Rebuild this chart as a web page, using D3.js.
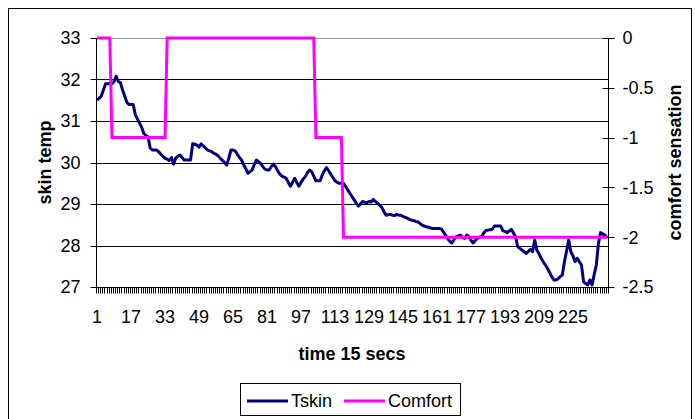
<!DOCTYPE html>
<html>
<head>
<meta charset="utf-8">
<script src="https://cdn.jsdelivr.net/npm/d3@7"></script>
<style>
  body { margin: 0; background: #fff; }
  text { font-family: Arial, "Liberation Sans", sans-serif; fill: #000; }
</style>
</head>
<body>
<div id="chart"></div>
<script>
// skin temperature, one reading per 15 s
var tskin = [
  31.5,31.55,31.6,31.75,31.9,31.9,31.9,31.9,31.95,32.08,
  31.95,31.92,31.75,31.6,31.45,31.4,31.4,31.4,31.15,31.05,
  30.95,30.85,30.7,30.65,30.62,30.35,30.3,30.3,30.3,30.26,
  30.2,30.15,30.1,30.08,30.05,30.12,29.96,30.1,30.15,30.18,
  30.12,30.06,30.06,30.06,30.06,30.45,30.44,30.42,30.37,30.45,
  30.4,30.35,30.3,30.28,30.26,30.22,30.2,30.16,30.1,30.05,
  30.0,29.94,30.1,30.3,30.3,30.28,30.2,30.12,30.06,29.95,
  29.85,29.74,29.78,29.82,29.95,30.06,30.02,29.98,29.9,29.84,
  29.82,29.82,29.9,29.96,29.9,29.8,29.72,29.67,29.65,29.62,
  29.52,29.43,29.52,29.62,29.52,29.43,29.52,29.6,29.66,29.75,
  29.82,29.78,29.67,29.56,29.56,29.56,29.7,29.8,29.88,29.8,
  29.72,29.64,29.56,29.52,29.5,29.5,29.5,29.42,29.34,29.26,
  29.18,29.1,29.02,28.95,29.0,29.06,29.04,29.03,29.06,29.05,
  29.11,29.06,29.02,28.97,28.92,28.82,28.73,28.74,28.75,28.73,
  28.72,28.75,28.73,28.73,28.7,28.68,28.66,28.63,28.61,28.6,
  28.58,28.57,28.53,28.49,28.47,28.45,28.44,28.42,28.41,28.41,
  28.41,28.41,28.4,28.33,28.25,28.17,28.1,28.06,28.14,28.21,
  28.23,28.25,28.2,28.17,28.25,28.21,28.13,28.06,28.12,28.17,
  28.2,28.22,28.3,28.36,28.37,28.38,28.39,28.47,28.47,28.47,
  28.47,28.36,28.34,28.31,28.35,28.39,28.3,28.21,27.97,27.93,
  27.89,27.85,27.81,27.86,27.91,27.85,28.13,27.89,27.8,27.7,
  27.61,27.53,27.45,27.35,27.25,27.17,27.17,27.2,27.25,27.29,
  27.61,27.87,28.13,27.85,27.75,27.61,27.69,27.61,27.53,27.13,
  27.08,27.05,27.17,27.05,27.3,27.53,28.05,28.31,28.28,28.25,
  28.2
];

// comfort sensation votes
var comfort = [
  0,0,0,0,0,0,0,-1,-1,-1,
  -1,-1,-1,-1,-1,-1,-1,-1,-1,-1,
  -1,-1,-1,-1,-1,-1,-1,-1,-1,-1,
  -1,-1,-1,0,0,0,0,0,0,0,
  0,0,0,0,0,0,0,0,0,0,
  0,0,0,0,0,0,0,0,0,0,
  0,0,0,0,0,0,0,0,0,0,
  0,0,0,0,0,0,0,0,0,0,
  0,0,0,0,0,0,0,0,0,0,
  0,0,0,0,0,0,0,0,0,0,
  0,0,0,-1,-1,-1,-1,-1,-1,-1,
  -1,-1,-1,-1,-1,-1,-2,-2,-2,-2,
  -2,-2,-2,-2,-2,-2,-2,-2,-2,-2,
  -2,-2,-2,-2,-2,-2,-2,-2,-2,-2,
  -2,-2,-2,-2,-2,-2,-2,-2,-2,-2,
  -2,-2,-2,-2,-2,-2,-2,-2,-2,-2,
  -2,-2,-2,-2,-2,-2,-2,-2,-2,-2,
  -2,-2,-2,-2,-2,-2,-2,-2,-2,-2,
  -2,-2,-2,-2,-2,-2,-2,-2,-2,-2,
  -2,-2,-2,-2,-2,-2,-2,-2,-2,-2,
  -2,-2,-2,-2,-2,-2,-2,-2,-2,-2,
  -2,-2,-2,-2,-2,-2,-2,-2,-2,-2,
  -2,-2,-2,-2,-2,-2,-2,-2,-2,-2,
  -2,-2,-2,-2,-2,-2,-2,-2,-2,-2,
  -2
];

var xLabels = [1,17,33,49,65,81,97,113,129,145,161,177,193,209,225];
var leftTicks = [27,28,29,30,31,32,33];
var rightTicks = [-2.5,-2,-1.5,-1,-0.5,0];

var width = 695,
    height = 419,
    plot = {left: 96, right: 608, top: 38, bottom: 287};

var svg = d3.select("#chart")
  .append("svg")
    .attr("width", width)
    .attr("height", height);

// chart frame
svg.append("rect")
    .attr("x", 8.5).attr("y", 8.5)
    .attr("width", 683).attr("height", 420)
    .attr("fill", "none")
    .attr("stroke", "#000");

var cats = tskin.map(function(d, i) { return i + 1; });

var x = d3.scaleBand()
    .domain(cats)
    .range([plot.left, plot.right]);

var yL = d3.scaleLinear().domain([27, 33]).range([plot.bottom, plot.top]);
var yR = d3.scaleLinear().domain([-2.5, 0]).range([plot.bottom, plot.top]);

function cx(i) { return x(i + 1) + x.bandwidth() / 2; }

// gridlines
svg.append("g")
  .selectAll("line")
  .data(leftTicks.slice(1, -1))
  .enter().append("line")
    .attr("x1", plot.left).attr("x2", plot.right)
    .attr("y1", function(d) { return Math.round(yL(d)) + 0.5; })
    .attr("y2", function(d) { return Math.round(yL(d)) + 0.5; })
    .attr("stroke", "#000");

// plot area top edge
svg.append("line")
    .attr("x1", plot.left).attr("x2", plot.right)
    .attr("y1", plot.top + 0.5).attr("y2", plot.top + 0.5)
    .attr("stroke", "#999");

// left axis
var left = svg.append("g")
    .attr("transform", "translate(" + (plot.left + 0.5) + ",0)");
left.append("line")
    .attr("y1", plot.top).attr("y2", plot.bottom + 0.5)
    .attr("stroke", "#000");
left.selectAll(".tk")
  .data(leftTicks)
  .enter().append("line")
    .attr("x1", -6).attr("x2", 0)
    .attr("y1", function(d) { return Math.round(yL(d)) + 0.5; })
    .attr("y2", function(d) { return Math.round(yL(d)) + 0.5; })
    .attr("stroke", "#000");
left.selectAll("text")
  .data(leftTicks)
  .enter().append("text")
    .attr("x", -16)
    .attr("y", function(d) { return yL(d); })
    .attr("dy", "0.35em")
    .attr("text-anchor", "end")
    .style("font-size", "18px")
    .text(function(d) { return d; });

// right axis
var right = svg.append("g")
    .attr("transform", "translate(" + (plot.right + 0.5) + ",0)");
right.append("line")
    .attr("y1", plot.top).attr("y2", plot.bottom + 0.5)
    .attr("stroke", "#000");
right.selectAll(".tk")
  .data(rightTicks)
  .enter().append("line")
    .attr("x1", -6).attr("x2", 6)
    .attr("y1", function(d) { return Math.round(yR(d)) + 0.5; })
    .attr("y2", function(d) { return Math.round(yR(d)) + 0.5; })
    .attr("stroke", "#000");
right.selectAll("text")
  .data(rightTicks)
  .enter().append("text")
    .attr("x", 14)
    .attr("y", function(d) { return yR(d); })
    .attr("dy", "0.35em")
    .style("font-size", "18px")
    .text(function(d) { return String(d); });

// category axis
var bottom = svg.append("g")
    .attr("transform", "translate(0," + (plot.bottom + 0.5) + ")");
bottom.append("line")
    .attr("x1", plot.left).attr("x2", plot.right + 1)
    .attr("stroke", "#000");
bottom.selectAll(".tk")
  .data(cats.concat([null]))
  .enter().append("line")
    .attr("x1", function(d) { return d === null ? plot.right + 0.5 : Math.round(x(d)) + 0.5; })
    .attr("x2", function(d) { return d === null ? plot.right + 0.5 : Math.round(x(d)) + 0.5; })
    .attr("y1", 0).attr("y2", 6)
    .attr("stroke", "#000");
bottom.selectAll("text")
  .data(xLabels)
  .enter().append("text")
    .attr("x", function(d) { return cx(d - 1); })
    .attr("y", 35)
    .attr("text-anchor", "middle")
    .style("font-size", "18px")
    .text(function(d) { return d; });

// axis titles
svg.append("text")
    .attr("transform", "translate(51," + ((plot.top + plot.bottom) / 2) + ") rotate(-90)")
    .attr("text-anchor", "middle")
    .style("font-size", "18px")
    .style("font-weight", "bold")
    .text("skin temp");

svg.append("text")
    .attr("transform", "translate(681," + ((plot.top + plot.bottom) / 2) + ") rotate(-90)")
    .attr("text-anchor", "middle")
    .style("font-size", "18px")
    .style("font-weight", "bold")
    .text("comfort sensation");

svg.append("text")
    .attr("x", (plot.left + plot.right) / 2)
    .attr("y", 360)
    .attr("text-anchor", "middle")
    .style("font-size", "18px")
    .style("font-weight", "bold")
    .text("time 15 secs");

// series
var lineL = d3.line()
    .x(function(d, i) { return cx(i); })
    .y(function(d) { return yL(d); });

var lineR = d3.line()
    .x(function(d, i) { return cx(i); })
    .y(function(d) { return yR(d); });

svg.append("path")
    .datum(tskin)
    .attr("d", lineL)
    .attr("fill", "none")
    .attr("stroke", "#000080")
    .attr("stroke-width", 3)
    .attr("stroke-linejoin", "round");

svg.append("path")
    .datum(comfort)
    .attr("d", lineR)
    .attr("fill", "none")
    .attr("stroke", "#ff00ff")
    .attr("stroke-width", 3);

// legend
var legend = svg.append("g");
legend.append("rect")
    .attr("x", 240.5).attr("y", 383.5)
    .attr("width", 220).attr("height", 32)
    .attr("fill", "#fff")
    .attr("stroke", "#000");

var items = [
  {name: "Tskin", color: "#000080", x: 247},
  {name: "Comfort", color: "#ff00ff", x: 344}
];

legend.selectAll("line")
  .data(items)
  .enter().append("line")
    .attr("x1", function(d) { return d.x; })
    .attr("x2", function(d) { return d.x + 41; })
    .attr("y1", 401).attr("y2", 401)
    .attr("stroke", function(d) { return d.color; })
    .attr("stroke-width", 3);

legend.selectAll("text")
  .data(items)
  .enter().append("text")
    .attr("x", function(d) { return d.x + 44; })
    .attr("y", 407)
    .style("font-size", "18px")
    .text(function(d) { return d.name; });
</script>
</body>
</html>
